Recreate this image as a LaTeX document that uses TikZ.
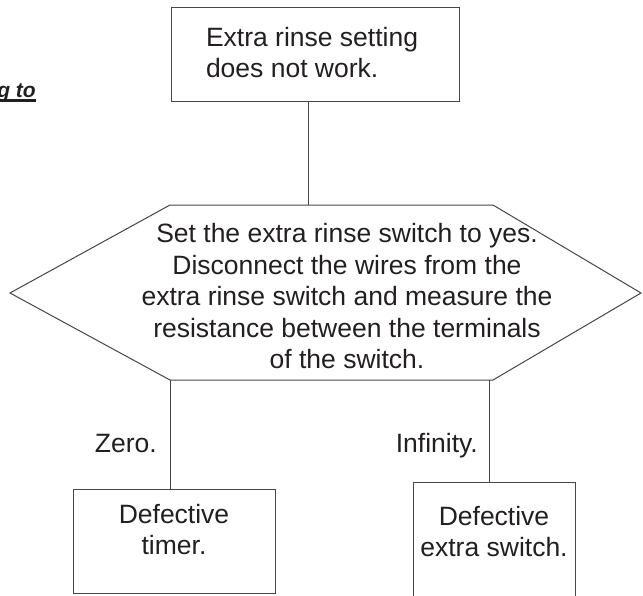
\documentclass[tikz,border=0pt]{standalone}
\usepackage{fontspec}
\setmainfont{Liberation Sans}
\definecolor{ink}{RGB}{35,31,32}
\definecolor{edge}{RGB}{70,70,70}
\begin{document}
\begin{tikzpicture}[
x=1pt, y=-1pt,
every node/.style={font=\fontsize{26.5}{31.5}\selectfont, text=ink},
box/.style={draw=edge, line width=1pt, inner sep=0pt},
lbl/.style={inner sep=0pt, anchor=base east},
link/.style={draw=edge, line width=1pt}
]
\useasboundingbox (0,0) rectangle (643,595);
% cut-off heading at the left margin
\node[anchor=base east, inner sep=0pt, font=\fontsize{21}{25}\selectfont\bfseries\itshape] (heading) at (36,97) {g to};
\draw[ink, line width=2.4pt] ([yshift=-3.5pt]heading.base west) -- ([yshift=-3.5pt]heading.base east);
% problem
\node[box, inner xsep=35pt] (problem) at (315,54)
  {\parbox[c][94pt][t]{218pt}{\raggedright\rule{0pt}{39pt}Extra rinse setting\\does not work.}};
% test
\coordinate (hexW) at (10,293);
\coordinate (hexNW) at (170,205);
\coordinate (hexNE) at (493,205);
\coordinate (hexE) at (641,293);
\coordinate (hexSE) at (493,380);
\coordinate (hexSW) at (170,380);
\draw[link] (hexW) -- (hexNW) -- (hexNE) -- (hexE) -- (hexSE) -- (hexSW) -- cycle;
\node[align=center, inner sep=0pt] (check) at (347,296.4)
  {Set the extra rinse switch to yes.\\Disconnect the wires from the\\extra rinse switch and measure the\\resistance between the terminals\\of the switch.};
% results
\node[box] (timer) at (174,541)
  {\parbox[c][104pt][t]{202pt}{\centering\rule{0pt}{34pt}Defective\\timer.}};
\node[box] (switch) at (494,547)
  {\parbox[c][130pt][t]{162pt}{\centering\rule{0pt}{43pt}Defective\\extra switch.}};
% connectors
\coordinate (inTop) at (308,205);
\coordinate (outInf) at (489,380);
\draw[link] (problem.south -| inTop) -- (inTop);
\draw[link] (hexSW) -- (hexSW |- timer.north);
\draw[link] (outInf) -- (outInf |- switch.north);
\node[lbl] (zero) at (157,452) {Zero.};
\node[lbl] (infinity) at (478,452) {Infinity.};
\end{tikzpicture}
\end{document}
